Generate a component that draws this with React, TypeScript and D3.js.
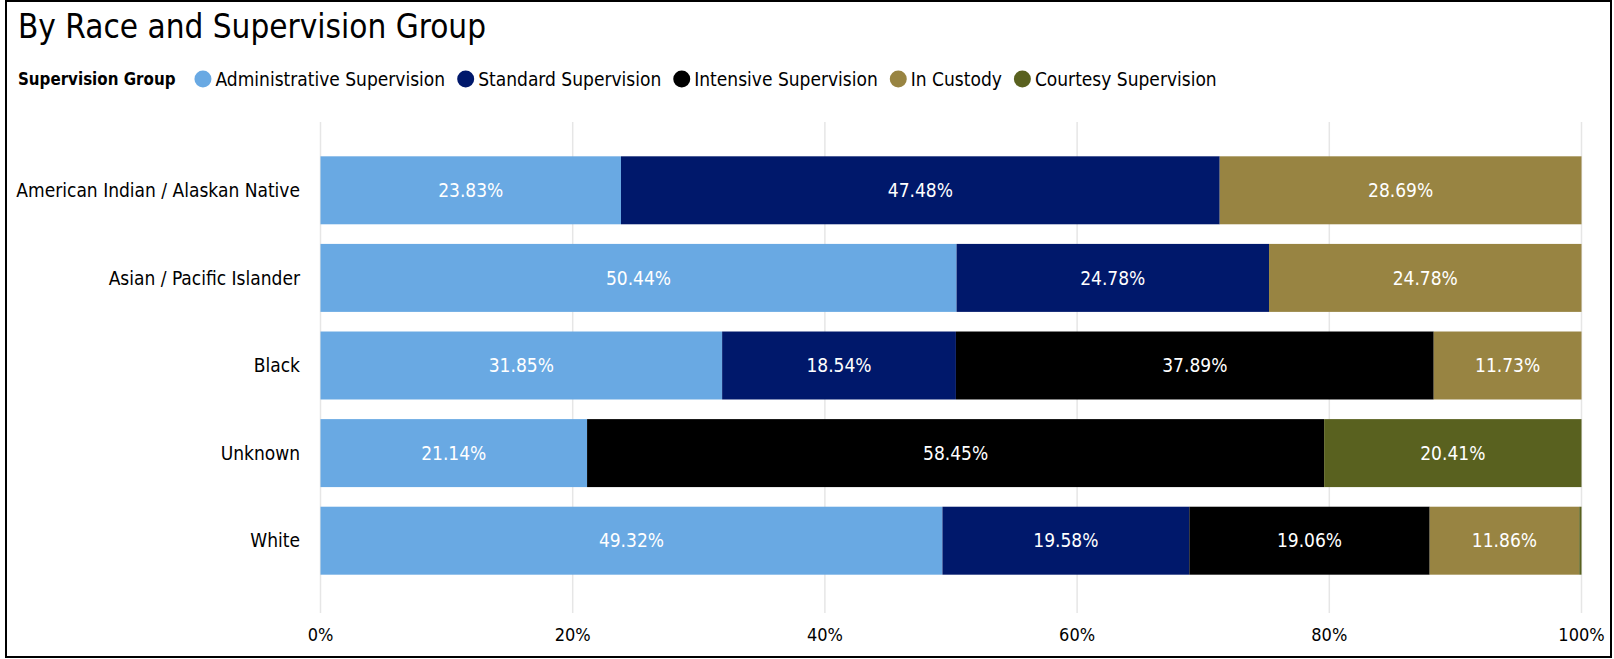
import React, { useEffect, useRef } from "react";
import * as d3 from "d3";

const categories = [
  "American Indian / Alaskan Native",
  "Asian / Pacific Islander",
  "Black",
  "Unknown",
  "White",
];
const seriesNames = [
  "Administrative Supervision",
  "Standard Supervision",
  "Intensive Supervision",
  "In Custody",
  "Courtesy Supervision",
];
const seriesColors = ["#69A9E3", "#00186B", "#000000", "#988442", "#59611F"];
const administrative = [23.83, 50.44, 31.85, 21.14, 49.32];
const standard = [47.48, 24.78, 18.54, 0, 19.58];
const intensive = [0, 0, 37.89, 58.45, 19.06];
const inCustody = [28.69, 24.78, 11.73, 0, 11.86];
const courtesy = [0, 0, 0, 20.41, 0.18];
const xTicks = [0, 20, 40, 60, 80, 100];
const title = "By Race and Supervision Group";
const legendTitle = "Supervision Group";

const W = 1614;
const H = 659;
const FONT = "'DejaVu Sans Condensed', 'Liberation Sans Narrow', Roboto, sans-serif";

export default function App() {
  const ref = useRef<SVGSVGElement | null>(null);

  useEffect(() => {
    const svg = d3.select(ref.current);
    svg.selectAll("*").remove();

    const seriesValues = [administrative, standard, intensive, inCustody, courtesy];

    svg
      .append("rect")
      .attr("x", 6)
      .attr("y", 1)
      .attr("width", 1605)
      .attr("height", 656)
      .attr("fill", "#fff")
      .attr("stroke", "#000")
      .attr("stroke-width", 2);

    svg
      .append("text")
      .attr("x", 18)
      .attr("y", 38)
      .attr("font-family", FONT)
      .attr("font-size", 33)
      .attr("fill", "#000")
      .text(title);

    const legendY = 79;
    const lg = svg.append("g").attr("font-family", FONT).attr("font-size", 19);
    const lt = lg
      .append("text")
      .attr("x", 18)
      .attr("y", legendY)
      .attr("dy", "0.35em")
      .attr("font-weight", "bold")
      .attr("font-size", 16.8)
      .attr("fill", "#000")
      .text(legendTitle);
    let cx = 18 + (lt.node() as SVGTextElement).getComputedTextLength() + 19;
    seriesNames.forEach((name, i) => {
      lg.append("circle")
        .attr("cx", cx + 8.5)
        .attr("cy", legendY)
        .attr("r", 8.5)
        .attr("fill", seriesColors[i]);
      const t = lg
        .append("text")
        .attr("x", cx + 21)
        .attr("y", legendY)
        .attr("dy", "0.35em")
        .attr("fill", "#000")
        .text(name);
      cx = cx + 21 + (t.node() as SVGTextElement).getComputedTextLength() + 12;
    });

    const x = d3.scaleLinear().domain([0, 100]).range([320.5, 1581.5]);
    const y = d3
      .scaleBand<string>()
      .domain(categories)
      .range([146.5, 584.5])
      .paddingInner(0.224)
      .paddingOuter(0.112);

    svg
      .append("g")
      .selectAll("line")
      .data(xTicks)
      .join("line")
      .attr("x1", (d) => x(d))
      .attr("x2", (d) => x(d))
      .attr("y1", 122)
      .attr("y2", 613)
      .attr("stroke", "#E6E6E6")
      .attr("stroke-width", 1.5);

    svg
      .append("g")
      .selectAll("text")
      .data(xTicks)
      .join("text")
      .attr("x", (d) => x(d))
      .attr("y", 635)
      .attr("dy", "0.35em")
      .attr("text-anchor", "middle")
      .attr("font-family", FONT)
      .attr("font-size", 18)
      .attr("fill", "#000")
      .text((d) => `${d}%`);

    svg
      .append("g")
      .selectAll("text")
      .data(categories)
      .join("text")
      .attr("x", 300)
      .attr("y", (d) => (y(d) as number) + y.bandwidth() / 2)
      .attr("dy", "0.35em")
      .attr("text-anchor", "end")
      .attr("font-family", FONT)
      .attr("font-size", 19)
      .attr("fill", "#000")
      .text((d) => d);

    const rows = categories.map((c, ci) => {
      let acc = 0;
      return seriesValues.map((vals, si) => {
        const v = vals[ci];
        const seg = { cat: c, si, v, x0: acc, x1: acc + v };
        acc += v;
        return seg;
      });
    });
    const segs = rows.flat().filter((s) => s.v > 0);
    const bars = svg.append("g");
    bars
      .selectAll("rect")
      .data(segs)
      .join("rect")
      .attr("x", (d) => x(d.x0))
      .attr("y", (d) => y(d.cat) as number)
      .attr("width", (d) => Math.max(0, Math.min(x(d.x1), x(100)) - x(d.x0)))
      .attr("height", y.bandwidth())
      .attr("fill", (d) => seriesColors[d.si]);

    bars
      .selectAll("text")
      .data(segs.filter((s) => s.v >= 3))
      .join("text")
      .attr("x", (d) => (x(d.x0) + Math.min(x(d.x1), x(100))) / 2)
      .attr("y", (d) => (y(d.cat) as number) + y.bandwidth() / 2)
      .attr("dy", "0.35em")
      .attr("text-anchor", "middle")
      .attr("font-family", FONT)
      .attr("font-size", 19)
      .attr("fill", "#fff")
      .text((d) => `${d.v.toFixed(2)}%`);
  }, []);

  return (
    <svg
      ref={ref}
      width={W}
      height={H}
      style={{ position: "absolute", left: 0, top: 0, display: "block" }}
    />
  );
}
